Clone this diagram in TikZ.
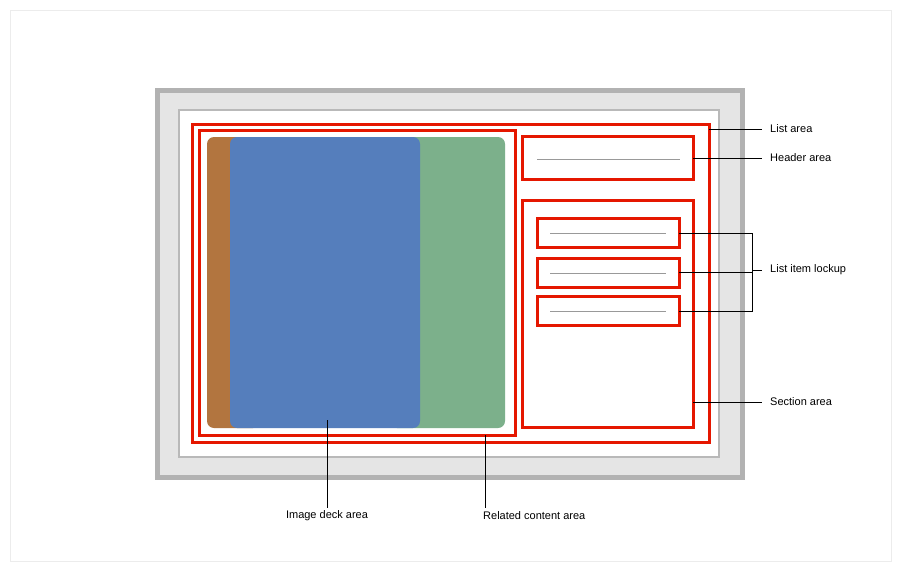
\documentclass[tikz,border=0pt]{standalone}
\usepackage{fontspec}
\setmainfont{Liberation Sans}
\begin{document}
\begin{tikzpicture}[x=1pt,y=-1pt,
  redbox/.style={draw=red!80!orange!90!black, line width=3pt},
  gline/.style={draw=gray!80, line width=0.8pt},
  call/.style={draw=black, line width=1pt},
  lab/.style={anchor=west, font=\fontsize{11pt}{13pt}\selectfont, inner sep=0pt}]
\useasboundingbox (0,0) rectangle (900,570);
\draw[draw=gray!15, line width=0.6pt] (10,10) rectangle (891,561);
% TV
\draw[fill=gray!20, draw=gray!60, line width=5pt] (157,90) rectangle (742,477);
\draw[fill=white, draw=gray!55, line width=1.5pt] (179,110) rectangle (719,457);
% images
\fill[rounded corners=7pt, fill={rgb,255:red,178;green,117;blue,63}] (207,137) rectangle (260,428);
\fill[rounded corners=7pt, fill={rgb,255:red,124;green,176;blue,139}] (390,137) rectangle (505,428);
\fill[rounded corners=7pt, fill={rgb,255:red,85;green,126;blue,188}] (230,137) rectangle (420,428);
% red boxes
\draw[redbox] (192,124) rectangle (709,442);
\node[draw=none, inner sep=0pt] (list) at (709,129) {};
\draw[redbox] (199,130) rectangle (515,435);
\draw[redbox] (522,136) rectangle (693,179);
\draw[gline] (537,159) -- (680,159);
\draw[redbox] (522,200) rectangle (693,427);
\foreach \y/\n in {218/a,258/b,296/c}{
  \draw[redbox] (537,\y) rectangle (679,\y+29);
  \draw[gline] (550,\y+15) -- (666,\y+15);
}
% callouts
\coordinate (c1) at (709,129); \coordinate (c1e) at (762,129);
\draw[call] (c1) -- (c1e);
\node[lab] (t1) at (770,129) {List area};
\coordinate (c2) at (693,158); \coordinate (c2e) at (762,158);
\draw[call] (c2) -- (c2e);
\node[lab] (t2) at (770,158) {Header area};
\coordinate (i1) at (679,233); \coordinate (i2) at (679,272); \coordinate (i3) at (679,311);
\draw[call] (i1) -- (752,233) -- (752,311) -- (i3);
\draw[call] (i2) -- (752,272);
\coordinate (c3e) at (762,270);
\draw[call] (752,270) -- (c3e);
\node[lab] (t3) at (770,270) {List item lockup};
\coordinate (c4) at (693,402); \coordinate (c4e) at (762,402);
\draw[call] (c4) -- (c4e);
\node[lab] (t4) at (770,402) {Section area};
\coordinate (d1) at (327,420); \coordinate (d1e) at (327,508);
\draw[call] (d1) -- (d1e);
\node[lab, anchor=north] (t5) at (327,510) {\rule{0pt}{8pt}Image deck area};
\node[lab] at (327,516) {};
\coordinate (d2) at (485,435); \coordinate (d2e) at (485,508);
\draw[call] (d2) -- (d2e);
\node[lab] (t6) at (483,516) {Related content area};
\end{tikzpicture}
\end{document}
